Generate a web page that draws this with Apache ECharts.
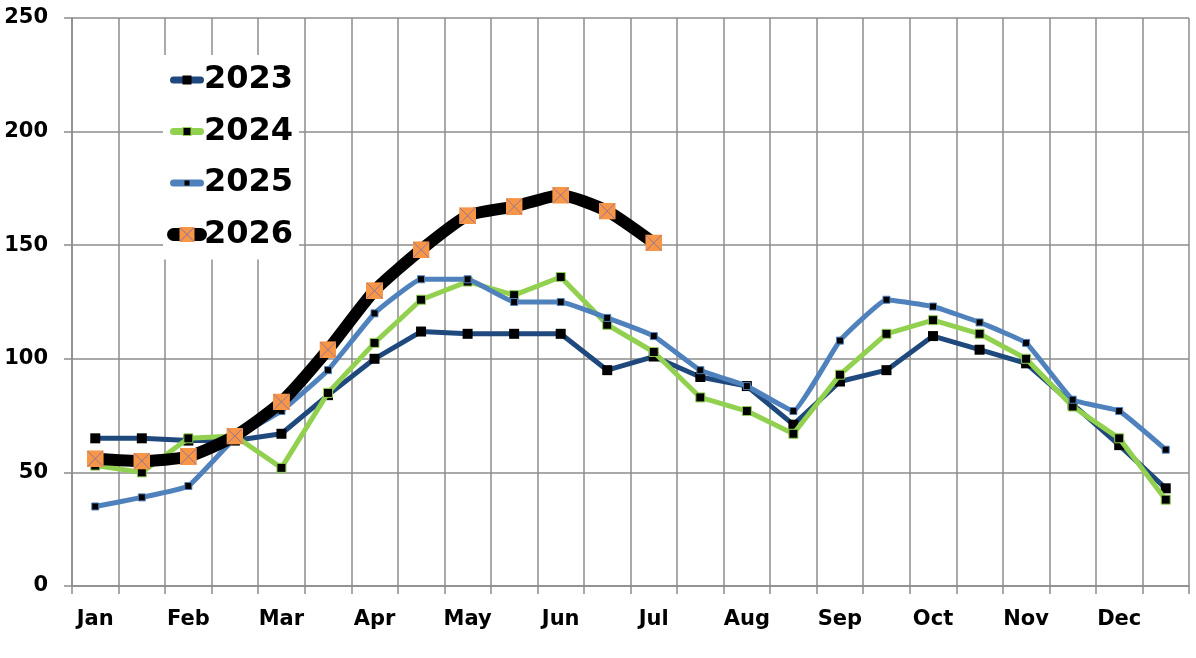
<!DOCTYPE html>
<html>
<head>
<meta charset="utf-8">
<script src="https://cdn.jsdelivr.net/npm/echarts@6/dist/echarts.min.js"></script>
<style>
  html, body { margin: 0; padding: 0; background: #fff; }
  #chart { width: 1196px; height: 658px; }
</style>
</head>
<body>
<div id="chart"></div>
<script>
// two points per month, label only on the first one
const months = ['Jan', 'Feb', 'Mar', 'Apr', 'May', 'Jun', 'Jul', 'Aug', 'Sep', 'Oct', 'Nov', 'Dec'];
const yTicks = [0, 50, 100, 150, 200, 250];

const s2023 = [65, 65, 64, 64, 67, 84, 100, 112, 111, 111, 111, 95, 101, 92, 88, 71, 90, 95, 110, 104, 98, 80, 62, 43];
const s2024 = [53, 50, 65, 66, 52, 85, 107, 126, 134, 128, 136, 115, 103, 83, 77, 67, 93, 111, 117, 111, 100, 79, 65, 38];
const s2025 = [35, 39, 44, 65, 77, 95, 120, 135, 135, 125, 125, 118, 110, 95, 88, 77, 108, 126, 123, 116, 107, 82, 77, 60];
const s2026 = [56, 55, 57, 66, 81, 104, 130, 148, 163, 167, 172, 165, 151, null, null, null, null, null, null, null, null, null, null, null];

const categories = [];
months.forEach(m => { categories.push(m); categories.push(''); });

function svgIcon(body, w, h) {
  const svg = '<svg xmlns="http://www.w3.org/2000/svg" width="' + w + '" height="' + h +
    '" viewBox="0 0 ' + w + ' ' + h + '">' + body + '</svg>';
  return 'image://data:image/svg+xml;charset=utf-8,' + encodeURIComponent(svg);
}

// orange square with a thin cross, like the spreadsheet marker
const crossBody = (x, y, s) =>
  '<rect x="' + x + '" y="' + y + '" width="' + s + '" height="' + s + '" fill="#F79646"/>' +
  '<path d="M' + (x + 1) + ' ' + (y + 1) + 'L' + (x + s - 1) + ' ' + (y + s - 1) +
  'M' + (x + s - 1) + ' ' + (y + 1) + 'L' + (x + 1) + ' ' + (y + s - 1) + '" stroke="#7F6FB0" stroke-width="1"/>';
const crossIcon = svgIcon(crossBody(0, 0, 20), 20, 20);

// legend icons: rounded line with its marker on top
const lineBody = (color, width, x1, x2) =>
  '<line x1="' + x1 + '" y1="8" x2="' + x2 + '" y2="8" stroke="' + color + '" stroke-width="' + width + '" stroke-linecap="round"/>';
const squareBody = (size, border) => {
  const o = 20 - size / 2, t = 8 - size / 2;
  return '<rect x="' + o + '" y="' + t + '" width="' + size + '" height="' + size + '" fill="#000"' +
    (border ? ' stroke="' + border + '" stroke-width="1"' : '') + '/>';
};
const legendIcons = {
  '2023': svgIcon(lineBody('#1F497D', 7, 6.5, 33.5) + squareBody(9), 40, 16),
  '2024': svgIcon(lineBody('#92D050', 7, 6.5, 33.5) + squareBody(8, '#92D050'), 40, 16),
  '2025': svgIcon(lineBody('#4F81BD', 7, 6.5, 33.5) + squareBody(5), 40, 16),
  '2026': svgIcon(lineBody('#000', 13, 6.5, 33.5) + crossBody(12.5, 0.5, 15), 40, 16)
};

const chart = echarts.init(document.getElementById('chart'));
const labelFont = { fontFamily: 'DejaVu Sans', fontWeight: 'bold', fontSize: 21, color: '#000' };
const seriesNames = ['2023', '2024', '2025', '2026'];

chart.setOption({
  animation: false,
  backgroundColor: '#fff',
  grid: { left: 72, right: 7, top: 18, bottom: 72 },
  legend: {
    orient: 'vertical',
    left: 163,
    top: 55,
    padding: [9, 6, 9, 4],
    itemGap: 19.5,
    itemWidth: 40,
    itemHeight: 16,
    backgroundColor: '#fff',
    textStyle: { fontFamily: 'DejaVu Sans', fontWeight: 'bold', fontSize: 32, color: '#000', padding: [0, 0, 0, -8] },
    data: seriesNames.map(n => ({ name: n, icon: legendIcons[n] }))
  },
  xAxis: {
    type: 'category',
    data: categories,
    boundaryGap: true,
    axisLine: { lineStyle: { color: '#8c8c8c', width: 1.5 } },
    axisTick: { show: true, interval: 0, length: 8, lineStyle: { color: '#8c8c8c', width: 1.5 } },
    axisLabel: Object.assign({ interval: 0, margin: 23 }, labelFont),
    splitLine: { show: true, interval: 0, lineStyle: { color: '#8c8c8c', width: 1.5 } }
  },
  yAxis: {
    type: 'value',
    min: yTicks[0],
    max: yTicks[yTicks.length - 1],
    interval: 50,
    axisLine: { show: true, lineStyle: { color: '#8c8c8c', width: 1.5 } },
    axisTick: { show: true, length: 8, lineStyle: { color: '#8c8c8c', width: 1.5 } },
    axisLabel: Object.assign({ margin: 24 }, labelFont),
    splitLine: { lineStyle: { color: '#8c8c8c', width: 1.5 } }
  },
  series: [
    {
      name: '2023', type: 'line', data: s2023,
      lineStyle: { color: '#1F497D', width: 5 },
      itemStyle: { color: '#000', borderColor: '#1F497D', borderWidth: 0 },
      symbol: 'rect', symbolSize: 10, z: 2
    },
    {
      name: '2024', type: 'line', data: s2024,
      lineStyle: { color: '#92D050', width: 5 },
      itemStyle: { color: '#000', borderColor: '#92D050', borderWidth: 1 },
      symbol: 'rect', symbolSize: 9, z: 3
    },
    {
      name: '2025', type: 'line', data: s2025, smooth: 0.1,
      lineStyle: { color: '#4F81BD', width: 5 },
      itemStyle: { color: '#000', borderColor: '#4F81BD', borderWidth: 1 },
      symbol: 'rect', symbolSize: 7, z: 4
    },
    {
      name: '2026', type: 'line', data: s2026, smooth: 0.2, connectNulls: false,
      lineStyle: { color: '#000', width: 12, cap: 'round' },
      itemStyle: { color: '#F79646' },
      symbol: crossIcon, symbolSize: 17, z: 5
    }
  ]
});
</script>
</body>
</html>
